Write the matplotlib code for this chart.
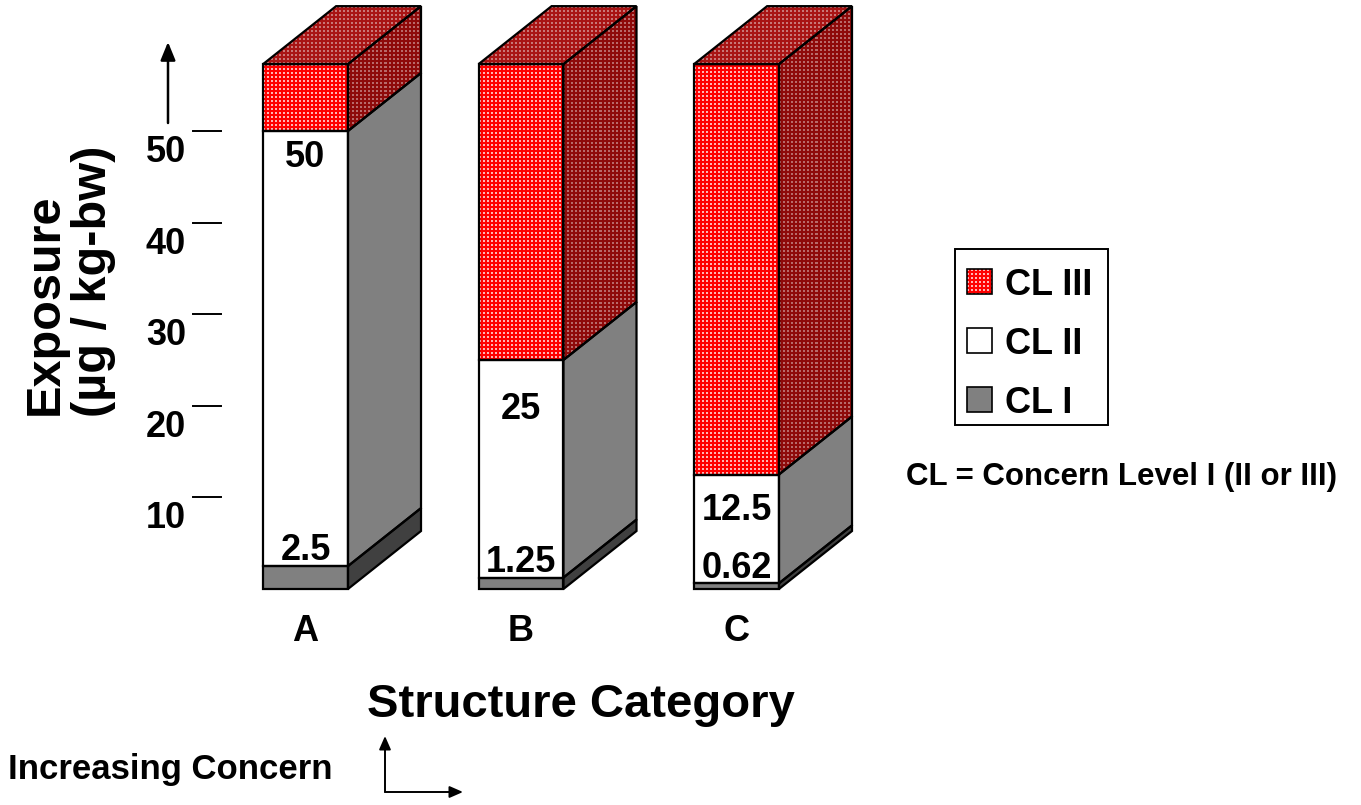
import numpy as np
import matplotlib.pyplot as plt
from matplotlib.colors import to_rgb
from matplotlib.patches import Polygon, Rectangle
from matplotlib.transforms import blended_transform_factory

plt.rcParams['font.family'] = ['Liberation Sans', 'DejaVu Sans']
plt.rcParams['font.weight'] = 'bold'

W, H = 1361, 805

# stacked concern levels per structure category (exposure, ug/kg-bw)
categories = ['A', 'B', 'C']
cl1_top = [2.5, 1.25, 0.62]
cl2_top = [50, 25, 12.5]
bar_top = [57.3, 57.3, 57.3]
cl1_labels = ['2.5', '1.25', '0.62']
cl2_labels = ['50', '25', '12.5']
yticks = [10, 20, 30, 40, 50]
legend_labels = ['CL III', 'CL II', 'CL I']

# face colours
RED, RED_DOT = '#ff0000', '#ffb4b4'
RED_SIDE, RED_SIDE_DOT = '#8e0a0a', '#b86a6a'
RED_TOP, RED_TOP_DOT = '#a81414', '#c87676'
GREY, GREY_DARK = '#808080', '#404040'

bar_w = 0.394      # front face width (category units)
depth_x = 0.339    # 3d offset
depth_y = 6.33

# label offsets in points below cl2 boundary / above cl1 boundary
cl2_pad = [26, 42.5, 33]
cl1_pad = [4.5, 4, 4]

# layout: 215.5 px per category, 9.16 px per unit, baseline at 589 px
PX_X, PX_Y, X0_PX, Y0_PX = 215.5, 9.16, 305.5, 589

fig = plt.figure(figsize=(W / 100, H / 100), dpi=100)
ax = fig.add_axes([0, 0, 1, 1])
ax.axis('off')


def px(x, y):
    return (x - X0_PX) / PX_X, (Y0_PX - y) / PX_Y


def dotted(pts, base, dot):
    # square grid of small light dots, clipped to the face
    xs, ys = zip(*pts)
    x0, x1, y0, y1 = min(xs), max(xs), min(ys), max(ys)
    nx = max(int(round((x1 - x0) * PX_X)), 1)
    ny = max(int(round((y1 - y0) * PX_Y)), 1)
    img = np.empty((ny, nx, 3))
    img[:] = to_rgb(base)
    mask = (np.arange(ny)[:, None] % 4 < 2) & (np.arange(nx)[None, :] % 4 < 2)
    img[mask] = to_rgb(dot)
    im = ax.imshow(img, extent=(x0, x1, y0, y1), origin='upper',
                   interpolation='nearest', aspect='auto', zorder=2)
    clip = Polygon(pts, closed=True, transform=ax.transData)
    im.set_clip_path(clip)


def face(pts, color, dot=None, lw=1.6):
    if dot:
        dotted(pts, color, dot)
    else:
        ax.add_patch(Polygon(pts, closed=True, facecolor=color,
                             edgecolor='none', zorder=1))
    ax.add_patch(Polygon(pts, closed=True, facecolor='none', edgecolor='black',
                         lw=lw, joinstyle='miter', zorder=3))


def block(x0, y0, y1, front, side, dot=None, side_dot=None):
    x1 = x0 + bar_w
    face([(x0, y0), (x1, y0), (x1, y1), (x0, y1)], front, dot)
    face([(x1, y0), (x1 + depth_x, y0 + depth_y),
          (x1 + depth_x, y1 + depth_y), (x1, y1)], side, side_dot)


for i, cat in enumerate(categories):
    x0 = i - bar_w / 2
    block(x0, 0, cl1_top[i], GREY, GREY_DARK)
    block(x0, cl1_top[i], cl2_top[i], 'white', GREY)
    block(x0, cl2_top[i], bar_top[i], RED, RED_SIDE, RED_DOT, RED_SIDE_DOT)
    t = bar_top[i]
    face([(x0, t), (x0 + bar_w, t), (x0 + bar_w + depth_x, t + depth_y),
          (x0 + depth_x, t + depth_y)], RED_TOP, RED_TOP_DOT)

    ax.annotate(cl2_labels[i], (i, cl2_top[i]), xytext=(0, -cl2_pad[i]),
                textcoords='offset points', ha='center', va='baseline', fontsize=26)
    ax.annotate(cl1_labels[i], (i, cl1_top[i]), xytext=(0, cl1_pad[i]),
                textcoords='offset points', ha='center', va='baseline', fontsize=26)
    ax.text(i, px(0, 641)[1], cat, ha='center', va='baseline', fontsize=26)

# y ticks: short dashes with labels, no spine
blend = blended_transform_factory(fig.transFigure, ax.transData)
for v in yticks:
    ax.plot([193 / W, 221 / W], [v, v], color='black', lw=1.4, transform=blend)
    ax.annotate(str(v), (186 / W, v), xycoords=blend, xytext=(0, -22.3),
                textcoords='offset points', ha='right', va='baseline', fontsize=26)

# arrow above the y ticks
ax.annotate('', xy=(168 / W, 1 - 42 / H), xycoords='figure fraction',
            xytext=(168 / W, 1 - 123 / H), textcoords='figure fraction',
            arrowprops=dict(arrowstyle='-|>,head_length=1.1,head_width=0.45',
                            color='black', lw=1.8, shrinkA=0, shrinkB=0))

fig.text(58 / W, 1 - 415 / H, 'Exposure', rotation=90, rotation_mode='anchor',
         ha='left', va='baseline', fontsize=35)
fig.text(106 / W, 1 - 417 / H, '(µg / kg-bw)', rotation=90, rotation_mode='anchor',
         ha='left', va='baseline', fontsize=35)

fig.text(581 / W, 1 - 717 / H, 'Structure Category', ha='center', va='baseline',
         fontsize=34)
fig.text(8 / W, 1 - 779 / H, 'Increasing Concern', ha='left', va='baseline',
         fontsize=25)

# corner arrows next to "Increasing Concern"
for end in [(385, 736), (463, 792)]:
    ax.annotate('', xy=(end[0] / W, 1 - end[1] / H), xycoords='figure fraction',
                xytext=(385 / W, 1 - 792 / H), textcoords='figure fraction',
                arrowprops=dict(arrowstyle='-|>,head_length=0.8,head_width=0.35',
                                color='black', lw=1.4, shrinkA=0, shrinkB=0))

# legend box
lx0, ly0 = px(955, 425)
lx1, ly1 = px(1108, 249)
ax.add_patch(Rectangle((lx0, ly0), lx1 - lx0, ly1 - ly0, facecolor='white',
                       edgecolor='black', lw=1.4, zorder=1))
legend_faces = [(RED, RED_DOT), ('white', None), (GREY, None)]
for k, (lab, (fc, dot)) in enumerate(zip(legend_labels, legend_faces)):
    cy = 281.5 + 59 * k
    sx0, sy0 = px(967, cy + 12.5)
    sx1, sy1 = px(992, cy - 12.5)
    face([(sx0, sy0), (sx1, sy0), (sx1, sy1), (sx0, sy1)], fc, dot, lw=1.2)
    ax.text(*px(1005, cy + 13), lab, ha='left', va='baseline', fontsize=26)

fig.text(1122 / W, 1 - 485 / H, 'CL = Concern Level I (II or III)', ha='center',
         va='baseline', fontsize=22.5)

ax.set_xlim(-X0_PX / PX_X, (W - X0_PX) / PX_X)
ax.set_ylim(-(H - Y0_PX) / PX_Y, Y0_PX / PX_Y)

fig.savefig('out.png', dpi=100)
